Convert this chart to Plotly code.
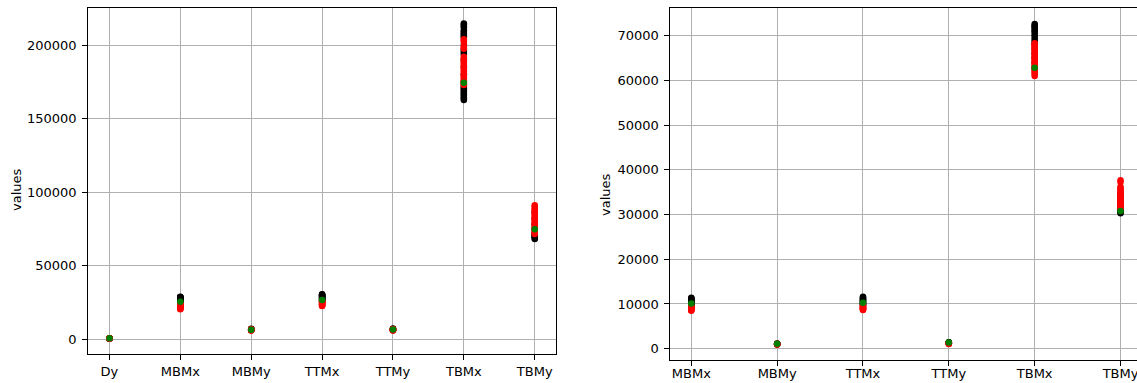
import plotly.graph_objects as go

# ---------------- data ----------------
cats_left = ["Dy", "MBMx", "MBMy", "TTMx", "TTMy", "TBMx", "TBMy"]
cats_right = ["MBMx", "MBMy", "TTMx", "TTMy", "TBMx", "TBMy"]

# left panel
black_left = {
    "Dy": [300, 380, 420, 460, 500, 520, 550],
    "MBMx": [24500, 24900, 25200, 25500, 25800, 26100, 26300, 26600, 26800, 27000, 27200,
             27400, 27600, 27800, 28000, 28200, 28400, 28600, 28800],
    "MBMy": [5900, 6100, 6200, 6400, 6500, 6700, 6800, 7000],
    "TTMx": [25500, 25900, 26200, 26500, 26800, 27100, 27400, 27700, 28000, 28300, 28600,
             28900, 29100, 29400, 29600, 29800, 30000, 30200, 30400],
    "TTMy": [6000, 6200, 6400, 6600, 6800, 7100],
    "TBMx": [162600, 163500, 164500, 165500, 166500, 167500, 168500, 169500, 170500, 171500,
             172500, 175000, 180000, 185000, 190000, 193500, 194800, 196000, 197000, 200000,
             205000, 206000, 207000, 208000, 209000, 210000, 212000, 213000, 214000, 214700],
    "TBMy": [68000, 68700, 69300, 70000, 70500, 71200, 72000, 75000, 78000, 82000, 86000],
}
red_left = {
    "Dy": [350, 400, 450, 480, 520],
    "MBMx": [20200, 20500, 20800, 21100, 21400, 21700, 22000, 22300, 22600, 22900, 23200,
             23500, 23800, 24100, 24300],
    "MBMy": [5700, 5900, 6000, 6200, 6300, 6500, 6600],
    "TTMx": [22400, 22700, 23000, 23300, 23600, 23900, 24200, 24500, 24800, 25100, 25400,
             25700, 25900],
    "TTMy": [5800, 6000, 6100, 6300, 6500, 6700, 6800],
    "TBMx": [172800, 173500, 174200, 175000, 176000, 177000, 178000, 179000, 180000, 181000,
             182000, 183000, 184000, 185000, 186000, 187000, 188000, 189000, 190000, 191000,
             192000, 197500, 198200, 199000, 202000, 203000, 203900],
    "TBMy": [71400, 72200, 73000, 74000, 75000, 76000, 77000, 78000, 79000, 80000, 81000,
             82000, 83000, 84000, 85000, 86000, 87000, 88000, 89000, 90000, 91000],
}
green_left = {
    "Dy": [450], "MBMx": [25400], "MBMy": [6300], "TTMx": [26500],
    "TTMy": [6500], "TBMx": [174400], "TBMy": [74600],
}

# right panel
black_right = {
    "MBMx": [9600, 9800, 10000, 10150, 10300, 10450, 10600, 10750, 10900, 11000, 11100,
             11250, 11400],
    "MBMy": [950, 1000, 1050, 1100, 1150],
    "TTMx": [9800, 9950, 10100, 10250, 10400, 10550, 10700, 10850, 11000, 11150, 11300,
             11450, 11600],
    "TTMy": [1200, 1280, 1350, 1400, 1450],
    "TBMx": [63000, 64000, 65000, 66000, 67000, 68000, 68500, 69000, 69500, 70000, 70500,
             71000, 71300, 71700, 72000, 72300, 72600],
    "TBMy": [30270, 30500, 30800, 31100, 31500, 32000, 32500, 33000, 33500, 34000, 34500],
}
red_right = {
    "MBMx": [8500, 8600, 8700, 8800, 8900, 9000, 9100, 9200, 9300, 9400, 9500],
    "MBMy": [950, 1000, 1050, 1120],
    "TTMx": [8650, 8750, 8850, 8950, 9050, 9150, 9250, 9350, 9450, 9550, 9650],
    "TTMy": [1050, 1100, 1150, 1200, 1250],
    "TBMx": [61000, 61400, 61800, 62200, 62500, 62900, 63300, 63700, 64000, 64400, 64800,
             65200, 65500, 65900, 66300, 66700, 67000, 67400, 67700, 68000, 68300],
    "TBMy": [31400, 31700, 32000, 32300, 32600, 32900, 33200, 33500, 33800, 34100, 34400,
             34700, 35000, 35300, 35600, 35900, 36200, 37300, 37700],
}
green_right = {
    "MBMx": [10100], "MBMy": [1100], "TTMx": [10300], "TTMy": [1400],
    "TBMx": [62850], "TBMy": [30790],
}

yticks_left = [0, 50000, 100000, 150000, 200000]
yticks_right = [0, 10000, 20000, 30000, 40000, 50000, 60000, 70000]

# ---------------- figure ----------------
fig = go.Figure()


def add_series(data, cats, color, xa, ya):
    xs, ys = [], []
    for c in cats:
        for v in data.get(c, []):
            xs.append(c)
            ys.append(v)
    fig.add_trace(go.Scatter(
        x=xs, y=ys, mode="markers", xaxis=xa, yaxis=ya,
        marker=dict(color=color, size=6.5, line=dict(width=0)),
        showlegend=False, hoverinfo="x+y"))


for d, col in [(black_left, "black"), (red_left, "red"), (green_left, "green")]:
    add_series(d, cats_left, col, "x", "y")
for d, col in [(black_right, "black"), (red_right, "red"), (green_right, "green")]:
    add_series(d, cats_right, col, "x2", "y2")

W, H = 1137, 383
font = dict(family="DejaVu Sans", size=13, color="black")
grid = "#b0b0b0"

common_x = dict(type="category", showgrid=True, gridcolor=grid, gridwidth=1,
                showline=True, linecolor="black", linewidth=1,
                ticks="outside", ticklen=5, tickcolor="black",
                tickfont=font, zeroline=False, automargin=False, fixedrange=True)
common_y = dict(showgrid=True, gridcolor=grid, gridwidth=1,
                showline=True, linecolor="black", linewidth=1,
                ticks="outside", ticklen=5, tickcolor="black",
                tickfont=font, zeroline=False, automargin=False,
                tickformat="d", ticklabelstandoff=3)

fig.update_layout(
    width=W, height=H,
    margin=dict(l=0, r=0, t=0, b=0),
    paper_bgcolor="white", plot_bgcolor="white",
    font=font,
    xaxis=dict(common_x, domain=[88.2 / W, 556 / W], anchor="y", mirror=True,
               categoryorder="array", categoryarray=cats_left, range=[-0.3, 6.3]),
    yaxis=dict(common_y, domain=[(H - 354) / H, (H - 8) / H], anchor="x", mirror=True,
               range=[-10204, 225170], tickvals=yticks_left),
    xaxis2=dict(common_x, domain=[670.4 / W, 1.0], anchor="y2", mirror=True,
                categoryorder="array", categoryarray=cats_right, range=[-0.2435, 5.192],
                ticklabelstandoff=-4),
    yaxis2=dict(common_y, domain=[(H - 360) / H, (H - 8) / H], anchor="x2", mirror=False,
                range=[-2527, 76195], tickvals=yticks_right),
    annotations=[
        dict(text="values", x=16 / W, y=(H - 190) / H, xref="paper", yref="paper",
             textangle=-90, showarrow=False, font=font, xanchor="center", yanchor="middle"),
        dict(text="values", x=605 / W, y=(H - 195) / H, xref="paper", yref="paper",
             textangle=-90, showarrow=False, font=font, xanchor="center", yanchor="middle"),
    ],
)

fig.write_html("out.html")
